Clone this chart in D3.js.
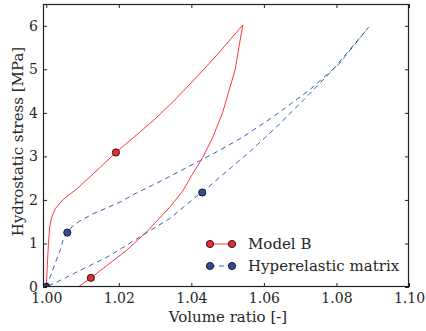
<!DOCTYPE html>
<html>
<head>
<meta charset="utf-8">
<script src="https://cdn.jsdelivr.net/npm/d3@7"></script>
<style>
  html, body { margin: 0; padding: 0; background: #fff; }
  svg { display: block; }
  text { font-family: "DejaVu Serif", serif; fill: #262626; }
</style>
</head>
<body>
<svg id="chart" width="426" height="331"></svg>
<script>
// Model B hysteresis loop: loading branch then unloading branch [volume ratio, stress MPa]
const modelBLoading = [
  [1.0000, 0.00], [1.0003, 0.50], [1.0006, 1.00], [1.0009, 1.35], [1.0015, 1.60],
  [1.0025, 1.80], [1.0045, 2.00], [1.0065, 2.13], [1.0084, 2.25], [1.0110, 2.45],
  [1.0150, 2.76], [1.0192, 3.09], [1.0250, 3.50], [1.0300, 3.86], [1.0350, 4.26],
  [1.0396, 4.66], [1.0440, 5.05], [1.0478, 5.40], [1.0542, 6.02]
];
const modelBUnloading = [
  [1.0542, 6.02], [1.0533, 5.60], [1.0521, 5.00], [1.0486, 4.00], [1.0458, 3.42],
  [1.0431, 2.97], [1.0400, 2.55], [1.0376, 2.20], [1.0340, 1.83], [1.0281, 1.30],
  [1.0221, 0.84], [1.0165, 0.48], [1.0123, 0.21], [1.0088, 0.00]
];
const modelBMarkers = [[1.0000, 0.00], [1.0192, 3.09], [1.0123, 0.21]];

// Hyperelastic matrix loop
const hyperLoading = [
  [1.0000, 0.00], [1.0010, 0.22], [1.0025, 0.55], [1.0038, 0.84], [1.0046, 1.07],
  [1.0058, 1.25], [1.0074, 1.41], [1.0093, 1.52], [1.0129, 1.68], [1.0203, 1.95],
  [1.0249, 2.16], [1.0320, 2.45], [1.0368, 2.66], [1.0423, 2.90], [1.0478, 3.14],
  [1.0541, 3.44], [1.0624, 3.90], [1.0725, 4.52], [1.0808, 5.13], [1.0888, 5.96]
];
const hyperUnloading = [
  [1.0888, 5.96], [1.0789, 4.98], [1.0717, 4.36], [1.0634, 3.67], [1.0560, 3.10],
  [1.0478, 2.52], [1.0430, 2.17], [1.0414, 2.08], [1.0340, 1.57], [1.0258, 1.15],
  [1.0175, 0.72], [1.0093, 0.38], [1.0038, 0.15], [1.0000, 0.00]
];
const hyperMarkers = [[1.0000, 0.00], [1.0058, 1.25], [1.0430, 2.17]];

const xTicks = [1.00, 1.02, 1.04, 1.06, 1.08, 1.10];
const yTicks = [0, 1, 2, 3, 4, 5, 6];
const seriesNames = ["Model B", "Hyperelastic matrix"];

const svg = d3.select("#chart");
const margin = { left: 43, right: 17, top: 4, bottom: 44 };
const W = 426, H = 331;
const x0 = margin.left, x1 = W - margin.right;
const y0 = H - margin.bottom, y1 = margin.top;

const x = d3.scaleLinear().domain([0.9991, 1.10]).range([x0, x1]);
const y = d3.scaleLinear().domain([0, 6.5]).range([y0, y1]);

svg.append("defs").append("clipPath").attr("id", "plotclip")
  .append("rect").attr("x", x0).attr("y", y1).attr("width", x1 - x0).attr("height", y0 - y1);

const plot = svg.append("g").attr("clip-path", "url(#plotclip)");
const line = d3.line().x(d => x(d[0])).y(d => y(d[1]));

const red = "#ff3838", redFill = "#ee2a2a";
const blue = "#3a5fb8", blueFill = "#2e4d9c";

plot.append("path").datum(modelBLoading.concat(modelBUnloading.slice(1)))
  .attr("d", line).attr("fill", "none").attr("stroke", red).attr("stroke-width", 1);
plot.append("path").datum(hyperLoading.concat(hyperUnloading.slice(1)))
  .attr("d", line).attr("fill", "none").attr("stroke", blue).attr("stroke-width", 1)
  .attr("stroke-dasharray", "5,4");

plot.selectAll(".mb").data(modelBMarkers).join("circle")
  .attr("cx", d => x(d[0])).attr("cy", d => y(d[1])).attr("r", 3.6)
  .attr("fill", redFill).attr("stroke", "#111").attr("stroke-width", 0.9);
plot.selectAll(".hm").data(hyperMarkers).join("circle")
  .attr("cx", d => x(d[0])).attr("cy", d => y(d[1])).attr("r", 3.6)
  .attr("fill", blueFill).attr("stroke", "#111").attr("stroke-width", 0.9);

// Axes: ticks point inward on all four sides
const tickLen = 4;
const axisColor = "#222";
const gx = svg.append("g").attr("transform", `translate(0,${y0})`)
  .call(d3.axisBottom(x).tickValues(xTicks).tickFormat(d3.format(".2f")).tickSizeInner(-tickLen).tickSizeOuter(0).tickPadding(6));
const gxt = svg.append("g").attr("transform", `translate(0,${y1})`)
  .call(d3.axisTop(x).tickValues(xTicks).tickFormat("").tickSizeInner(-tickLen).tickSizeOuter(0));
const gy = svg.append("g").attr("transform", `translate(${x0},0)`)
  .call(d3.axisLeft(y).tickValues(yTicks).tickFormat(d3.format("d")).tickSizeInner(-tickLen).tickSizeOuter(0).tickPadding(5));
const gyr = svg.append("g").attr("transform", `translate(${x1},0)`)
  .call(d3.axisRight(y).tickValues(yTicks).tickFormat("").tickSizeInner(-tickLen).tickSizeOuter(0));

[gx, gxt, gy, gyr].forEach(g => {
  g.select(".domain").remove();
  g.selectAll(".tick line").attr("stroke", axisColor).attr("stroke-width", 1);
  g.selectAll(".tick text").attr("font-family", "DejaVu Serif").attr("font-size", 14).attr("fill", "#262626");
});

svg.append("rect").attr("x", x0 + 0.5).attr("y", y1 + 0.5)
  .attr("width", x1 - x0 - 1).attr("height", y0 - y1 - 1)
  .attr("fill", "none").attr("stroke", axisColor).attr("stroke-width", 1.2);

svg.append("text").attr("x", (x0 + x1) / 2 + 2).attr("y", 322)
  .attr("text-anchor", "middle").attr("font-size", 15).text("Volume ratio [-]");
svg.append("text").attr("transform", `translate(23,${(y0 + y1) / 2 - 4}) rotate(-90)`)
  .attr("text-anchor", "middle").attr("font-size", 15).text("Hydrostatic stress [MPa]");

// Legend
const legend = svg.append("g");
const legendRows = [
  { name: seriesNames[0], stroke: red, fill: redFill, dash: null, ty: 244 },
  { name: seriesNames[1], stroke: blue, fill: blueFill, dash: "5,4", ty: 266 }
];
legendRows.forEach(r => {
  legend.append("line").attr("x1", 210).attr("x2", 232).attr("y1", r.ty).attr("y2", r.ty)
    .attr("stroke", r.stroke).attr("stroke-width", 1).attr("stroke-dasharray", r.dash);
  [210, 232].forEach(cx => legend.append("circle").attr("cx", cx).attr("cy", r.ty).attr("r", 3.6)
    .attr("fill", r.fill).attr("stroke", "#111").attr("stroke-width", 0.9));
  legend.append("text").attr("x", 248).attr("y", r.ty).attr("dy", "0.35em")
    .attr("font-size", 15).text(r.name);
});
</script>
</body>
</html>
